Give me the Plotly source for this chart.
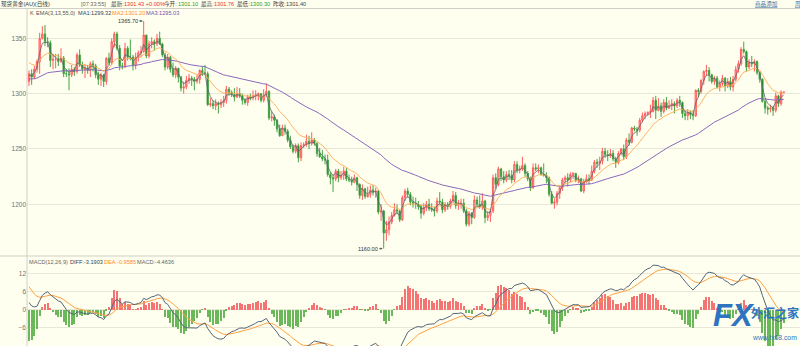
import plotly.graph_objects as go

# Daily spot gold bars (open / high / low / close), oldest first
opens = [
    1311, 1318, 1315, 1322, 1329, 1350, 1354, 1347, 1346, 1330, 1331, 1331, 1329, 1332, 1318, 1318, 1317, 1322, 1320, 1335,
    1326, 1322, 1323, 1321, 1327, 1325, 1317, 1313, 1317, 1311, 1332, 1328, 1347, 1354, 1341, 1325, 1325, 1341, 1333, 1333,
    1326, 1333, 1337, 1338, 1353, 1334, 1345, 1347, 1345, 1350, 1345, 1335, 1324, 1333, 1322, 1317, 1323, 1315, 1305, 1306,
    1312, 1314, 1313, 1311, 1313, 1321, 1319, 1318, 1290, 1291, 1289, 1291, 1290, 1292, 1294, 1304, 1301, 1299, 1297, 1300,
    1298, 1294, 1292, 1297, 1296, 1298, 1299, 1300, 1294, 1299, 1302, 1278, 1279, 1276, 1268, 1262, 1269, 1266, 1258, 1252,
    1248, 1253, 1242, 1253, 1254, 1257, 1255, 1258, 1255, 1246, 1243, 1241, 1240, 1227, 1224, 1223, 1230, 1224, 1226, 1230,
    1223, 1222, 1220, 1224, 1218, 1208, 1214, 1207, 1209, 1213, 1211, 1212, 1193, 1194, 1174, 1177, 1184, 1190, 1195, 1194,
    1186, 1206, 1212, 1209, 1202, 1201, 1200, 1198, 1192, 1197, 1200, 1196, 1195, 1194, 1203, 1202, 1195, 1200, 1198, 1203,
    1208, 1199, 1200, 1201, 1194, 1182, 1192, 1188, 1204, 1200, 1198, 1203, 1188, 1190, 1194, 1224, 1218, 1232, 1225, 1222,
    1227, 1226, 1222, 1236, 1231, 1232, 1235, 1228, 1223, 1215, 1233, 1232, 1233, 1227, 1226, 1224, 1209, 1201, 1202, 1210,
    1215, 1222, 1224, 1222, 1227, 1228, 1222, 1223, 1212, 1221, 1223, 1222, 1230, 1238, 1237, 1239, 1248, 1245, 1244, 1246,
    1241, 1238, 1246, 1250, 1243, 1258, 1256, 1269, 1268, 1267, 1276, 1280, 1282, 1283, 1284, 1294, 1285, 1289, 1284, 1292,
    1287, 1289, 1291, 1289, 1294, 1292, 1282, 1280, 1283, 1281, 1280, 1303, 1302, 1312, 1320, 1321, 1317, 1311, 1314, 1306,
    1309, 1314, 1307, 1311, 1306, 1313, 1322, 1327, 1340, 1338, 1324, 1328, 1327, 1329, 1319, 1313, 1293, 1287, 1286, 1287,
    1285, 1298, 1291, 1301.10,
]
highs = [
    1321, 1322, 1325, 1331, 1355, 1361, 1362, 1351, 1348, 1336, 1336, 1336, 1341, 1334, 1322, 1323, 1326, 1324, 1337, 1340,
    1329, 1327, 1326, 1329, 1330, 1327, 1320, 1319, 1318, 1333, 1337, 1350, 1356, 1356, 1344, 1328, 1346, 1343, 1349, 1335,
    1337, 1339, 1343, 1365.70, 1353, 1348, 1351, 1349, 1354, 1356, 1346, 1337, 1336, 1334, 1328, 1325, 1323, 1316, 1311, 1316,
    1318, 1316, 1315, 1317, 1322, 1325, 1326, 1320, 1296, 1294, 1295, 1293, 1295, 1298, 1307, 1306, 1303, 1305, 1306, 1305,
    1300, 1296, 1299, 1300, 1303, 1303, 1301, 1300, 1304, 1309, 1303, 1284, 1281, 1277, 1272, 1272, 1272, 1268, 1262, 1254,
    1255, 1255, 1256, 1256, 1263, 1262, 1265, 1260, 1256, 1251, 1249, 1245, 1245, 1229, 1227, 1232, 1232, 1230, 1234, 1233,
    1227, 1225, 1227, 1225, 1219, 1218, 1215, 1216, 1217, 1217, 1215, 1213, 1200, 1195, 1185, 1189, 1193, 1201, 1200, 1195,
    1208, 1214, 1215, 1211, 1207, 1206, 1203, 1200, 1201, 1203, 1205, 1201, 1198, 1206, 1211, 1205, 1202, 1202, 1205, 1212,
    1211, 1204, 1205, 1205, 1196, 1194, 1193, 1208, 1207, 1208, 1210, 1204, 1194, 1196, 1227, 1228, 1234, 1233, 1230, 1230,
    1231, 1231, 1239, 1239, 1235, 1243, 1237, 1230, 1225, 1237, 1237, 1236, 1234, 1237, 1229, 1225, 1212, 1205, 1212, 1217,
    1224, 1226, 1228, 1229, 1229, 1228, 1226, 1224, 1223, 1227, 1227, 1235, 1240, 1241, 1243, 1251, 1251, 1249, 1250, 1249,
    1243, 1248, 1251, 1254, 1260, 1264, 1270, 1271, 1270, 1278, 1283, 1284, 1284, 1290, 1297, 1298, 1296, 1292, 1295, 1297,
    1294, 1295, 1293, 1296, 1298, 1293, 1285, 1286, 1285, 1285, 1304, 1305, 1313, 1321, 1326, 1324, 1318, 1316, 1316, 1312,
    1317, 1315, 1314, 1315, 1316, 1325, 1330, 1342, 1347, 1339, 1331, 1334, 1331, 1330, 1320, 1314, 1295, 1289, 1290, 1289,
    1301, 1299, 1303, 1301.76,
]
lows = [
    1307, 1308, 1313, 1319, 1318, 1349, 1343, 1342, 1324, 1322, 1323, 1325, 1328, 1315, 1315, 1303, 1315, 1316, 1318, 1324,
    1318, 1314, 1318, 1315, 1320, 1314, 1308, 1307, 1306, 1308, 1326, 1326, 1342, 1339, 1321, 1322, 1323, 1330, 1330, 1321,
    1322, 1329, 1333, 1337, 1332, 1332, 1341, 1339, 1343, 1344, 1333, 1321, 1322, 1319, 1315, 1314, 1310, 1302, 1300, 1304,
    1309, 1307, 1303, 1309, 1309, 1316, 1317, 1289, 1288, 1286, 1285, 1282, 1287, 1288, 1291, 1298, 1297, 1293, 1296, 1296,
    1290, 1290, 1289, 1294, 1294, 1294, 1294, 1292, 1292, 1297, 1276, 1275, 1271, 1265, 1261, 1262, 1263, 1256, 1250, 1246,
    1246, 1238, 1239, 1251, 1252, 1250, 1253, 1253, 1243, 1242, 1239, 1236, 1225, 1218, 1211, 1221, 1220, 1222, 1222, 1221,
    1220, 1217, 1219, 1212, 1205, 1204, 1205, 1206, 1206, 1208, 1206, 1191, 1185, 1160, 1167, 1172, 1182, 1189, 1191, 1184,
    1185, 1203, 1206, 1199, 1197, 1196, 1195, 1187, 1190, 1194, 1194, 1193, 1189, 1192, 1200, 1192, 1193, 1195, 1196, 1201,
    1196, 1195, 1196, 1192, 1180, 1180, 1182, 1187, 1198, 1196, 1195, 1183, 1185, 1184, 1192, 1214, 1216, 1221, 1219, 1220,
    1222, 1219, 1220, 1228, 1228, 1230, 1225, 1221, 1212, 1214, 1230, 1228, 1226, 1225, 1219, 1207, 1200, 1196, 1199, 1205,
    1212, 1219, 1216, 1220, 1223, 1220, 1219, 1211, 1210, 1219, 1218, 1221, 1228, 1233, 1231, 1236, 1242, 1239, 1242, 1239,
    1233, 1236, 1244, 1240, 1241, 1253, 1255, 1266, 1262, 1265, 1274, 1277, 1280, 1278, 1283, 1277, 1284, 1279, 1282, 1285,
    1286, 1285, 1282, 1287, 1288, 1278, 1276, 1276, 1277, 1276, 1279, 1297, 1300, 1308, 1316, 1311, 1309, 1308, 1305, 1302,
    1307, 1302, 1305, 1303, 1302, 1311, 1319, 1325, 1336, 1320, 1322, 1324, 1320, 1317, 1310, 1292, 1282, 1281, 1283, 1280,
    1283, 1288, 1289, 1300.30,
]
closes = [
    1318, 1315, 1322, 1329, 1350, 1354, 1347, 1346, 1330, 1331, 1331, 1329, 1332, 1318, 1318, 1317, 1322, 1320, 1335, 1326,
    1322, 1323, 1321, 1327, 1325, 1317, 1313, 1317, 1311, 1332, 1328, 1347, 1354, 1341, 1325, 1325, 1341, 1333, 1333, 1326,
    1333, 1337, 1338, 1353, 1334, 1345, 1347, 1345, 1350, 1345, 1335, 1324, 1333, 1322, 1317, 1323, 1315, 1305, 1306, 1312,
    1314, 1313, 1311, 1313, 1321, 1319, 1318, 1290, 1291, 1289, 1291, 1290, 1292, 1294, 1304, 1301, 1299, 1297, 1300, 1298,
    1294, 1292, 1297, 1296, 1298, 1299, 1300, 1294, 1299, 1302, 1278, 1279, 1276, 1268, 1262, 1269, 1266, 1258, 1252, 1248,
    1253, 1242, 1253, 1254, 1257, 1255, 1258, 1255, 1246, 1243, 1241, 1240, 1227, 1224, 1223, 1230, 1224, 1226, 1230, 1223,
    1222, 1220, 1224, 1218, 1208, 1214, 1207, 1209, 1213, 1211, 1212, 1193, 1194, 1174, 1177, 1184, 1190, 1195, 1194, 1186,
    1206, 1212, 1209, 1202, 1201, 1200, 1198, 1192, 1197, 1200, 1196, 1195, 1194, 1203, 1202, 1195, 1200, 1198, 1203, 1208,
    1199, 1200, 1201, 1194, 1182, 1192, 1188, 1204, 1200, 1198, 1203, 1188, 1190, 1194, 1224, 1218, 1232, 1225, 1222, 1227,
    1226, 1222, 1236, 1231, 1232, 1235, 1228, 1223, 1215, 1233, 1232, 1233, 1227, 1226, 1224, 1209, 1201, 1202, 1210, 1215,
    1222, 1224, 1222, 1227, 1228, 1222, 1223, 1212, 1221, 1223, 1222, 1230, 1238, 1237, 1239, 1248, 1245, 1244, 1246, 1241,
    1238, 1246, 1250, 1243, 1258, 1256, 1269, 1268, 1267, 1276, 1280, 1282, 1283, 1284, 1294, 1285, 1289, 1284, 1292, 1287,
    1289, 1291, 1289, 1294, 1292, 1282, 1280, 1283, 1281, 1280, 1303, 1302, 1312, 1320, 1321, 1317, 1311, 1314, 1306, 1309,
    1314, 1307, 1311, 1306, 1313, 1322, 1327, 1340, 1338, 1324, 1328, 1327, 1329, 1319, 1313, 1293, 1287, 1286, 1287, 1285,
    1298, 1291, 1301.40, 1301.43,
]

# Indicator levels carried over from the bar before the first one shown
EMA_PRIOR = {3: 1316.0, 13: 1330.0, 55: 1313.0, 12: 1329.0, 26: 1325.5}
DEA_PRIOR = 8.9

price_ticks = [1200, 1250, 1300, 1350]
macd_ticks = [-12, -6, 0, 6, 12]
high_label, low_label = "1365.70", "1160.00"

W, H = 800, 346
BG = "#FFFFEF"
FONT = "Liberation Sans, Noto Sans CJK SC, sans-serif"
SMALL = 5.6


def ema(values, n, prior):
    a = 2.0 / (n + 1)
    out, e = [], prior
    for v in values:
        e = e + a * (v - e)
        out.append(e)
    return out


bars = list(range(len(closes)))
ema3 = ema(closes, 3, EMA_PRIOR[3])
ema13 = ema(closes, 13, EMA_PRIOR[13])
ema55 = ema(closes, 55, EMA_PRIOR[55])
dif = [a - b for a, b in zip(ema(closes, 12, EMA_PRIOR[12]), ema(closes, 26, EMA_PRIOR[26]))]
dea = ema(dif, 9, DEA_PRIOR)
hist = [2 * (d - e) for d, e in zip(dif, dea)]


def py(y):  # pixel row -> paper y
    return 1 - y / H


def pxx(x):  # pixel column -> paper x
    return x / W


fig = go.Figure()

fig.add_trace(go.Candlestick(
    x=bars, open=opens, high=highs, low=lows, close=closes,
    increasing=dict(line=dict(color="#FF5E5E", width=1), fillcolor="#FFAEAE"),
    decreasing=dict(line=dict(color="#45A445", width=1), fillcolor="#0E760E"),
    whiskerwidth=0, xaxis="x", yaxis="y", showlegend=False, hoverinfo="skip",
))
fig.add_trace(go.Scatter(x=bars, y=ema55, mode="lines", line=dict(color="#8A68BE", width=1),
                         xaxis="x", yaxis="y", hoverinfo="skip", showlegend=False))
fig.add_trace(go.Scatter(x=bars, y=ema13, mode="lines", line=dict(color="#FFAA50", width=0.9),
                         xaxis="x", yaxis="y", hoverinfo="skip", showlegend=False))
fig.add_trace(go.Scatter(x=bars, y=ema3, mode="lines", line=dict(color="#5E6672", width=0.8),
                         xaxis="x", yaxis="y", hoverinfo="skip", showlegend=False))

fig.add_trace(go.Bar(x=bars, y=hist, width=0.38,
                     marker=dict(color=["#F47474" if h >= 0 else "#6AB85A" for h in hist], line=dict(width=0)),
                     xaxis="x", yaxis="y2", hoverinfo="skip", showlegend=False))
fig.add_trace(go.Scatter(x=bars, y=dea, mode="lines", line=dict(color="#FFA040", width=1),
                         xaxis="x", yaxis="y2", hoverinfo="skip", showlegend=False))
fig.add_trace(go.Scatter(x=bars, y=dif, mode="lines", line=dict(color="#56657A", width=1),
                         xaxis="x", yaxis="y2", hoverinfo="skip", showlegend=False))

step = 2.667
x0 = -(29 - 27) / step
x1 = x0 + (W - 27) / step

axis_common = dict(showgrid=True, gridcolor="#E7E7DA", gridwidth=1, zeroline=False, ticks="",
                   showline=False, tickfont=dict(family=FONT, size=6.5, color="#707070"), anchor="x")

annotations = []


def label(x, y, text, color="#444444", size=SMALL, family=FONT, anchor="left"):
    annotations.append(dict(xref="paper", yref="paper", x=pxx(x), y=py(y), text=text, showarrow=False,
                            xanchor=anchor, yanchor="middle", borderpad=0,
                            font=dict(family=family, size=size, color=color)))


# header bar
label(0, 4.5, "现货黄金(AU)(日线)", "#333333")
label(80, 4.5, "[07:33:55]", "#666666")
label(110, 4.5, "最新:", "#444444")
label(123, 4.5, "1301.43 +0.00%", "#E83030")
label(163, 4.5, "今开:", "#444444")
label(177, 4.5, "1301.10", "#2C9A2C")
label(200, 4.5, "最高:", "#444444")
label(213, 4.5, "1301.76", "#E83030")
label(236, 4.5, "最低:", "#444444")
label(249, 4.5, "1300.30", "#2C9A2C")
label(272, 4.5, "昨收:", "#444444")
label(285, 4.5, "1301.40", "#444444")
label(754, 4.5, "<u>商品添加</u>", "#3A6EA8")
label(794, 4.5, "<u>周期</u>", "#3A6EA8")

# price panel legend
label(29, 12.5, "K", "#555555")
label(35, 12.5, "EMA(3,13,55,0)", "#555555")
label(77, 12.5, "MA1:1299.32", "#34445C")
label(111, 12.5, "MA2:1301.20", "#FF8C1A")
label(145, 12.5, "MA3:1295.03", "#7450A8")

# MACD panel legend
label(28, 261.5, "MACD(12,26,9)", "#666666")
label(69, 261.5, "DIFF:-3.1903", "#34445C")
label(103, 261.5, "DEA:-0.9585", "#FF8C1A")
label(136, 261.5, "MACD:-4.4636", "#666666")

# extreme price markers
i_hi = highs.index(max(highs))
i_lo = lows.index(min(lows))
for i, yv, txt in [(i_hi, highs[i_hi], high_label), (i_lo, lows[i_lo], low_label)]:
    annotations.append(dict(xref="x", yref="y", x=i, y=yv, text=txt, showarrow=True, ax=-16, ay=0,
                            arrowhead=2, arrowsize=0.6, arrowwidth=0.8, arrowcolor="#555555", standoff=1,
                            font=dict(family=FONT, size=SMALL, color="#333333")))

# site watermark
label(712, 315, "<b><i>FX</i></b>", "#2F74C0", size=31, family="Liberation Sans")
label(750, 312, "<b>外汇之家</b>", "#2F74C0", size=12, family="Noto Sans CJK SC")
label(751, 337, "www.fx68.com", "#2F74C0", size=6.8, family="Liberation Sans")

shapes = [
    dict(type="line", xref="paper", yref="paper", x0=0, x1=1, y0=py(8.5), y1=py(8.5),
         line=dict(color="#CFCFC6", width=1)),
    dict(type="line", xref="paper", yref="paper", x0=0, x1=1, y0=py(256), y1=py(256),
         line=dict(color="#CFCFC6", width=1)),
    dict(type="line", xref="paper", yref="paper", x0=pxx(27), x1=pxx(27), y0=0, y1=py(8.5),
         line=dict(color="#CFCFC6", width=1)),
]

fig.update_layout(
    width=W, height=H, margin=dict(l=0, r=0, t=0, b=0),
    paper_bgcolor=BG, plot_bgcolor=BG, bargap=0, showlegend=False,
    xaxis=dict(domain=[pxx(27), 1], range=[x0, x1], visible=False, rangeslider=dict(visible=False),
               anchor="y2"),
    yaxis=dict(domain=[py(255), py(9)], range=[1154.2, 1376.5], tickvals=price_ticks, **axis_common),
    yaxis2=dict(domain=[0, py(256)], range=[-12.2, 17.9], tickvals=macd_ticks, **axis_common),
    annotations=annotations, shapes=shapes,
)

fig.write_html("out.html")
